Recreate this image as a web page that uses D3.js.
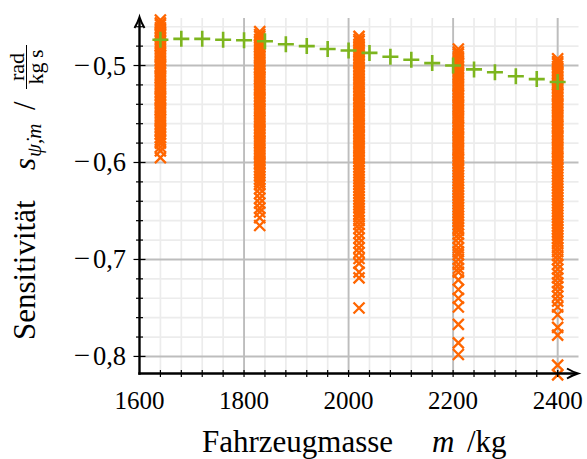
<!DOCTYPE html>
<html>
<head>
<meta charset="utf-8">
<script src="https://cdn.jsdelivr.net/npm/d3@7"></script>
<style>
  html, body { margin: 0; padding: 0; background: #fff; }
  svg { display: block; font-family: "Liberation Serif", "DejaVu Serif", serif; }
</style>
</head>
<body>
<div id="chart"></div>
<script>
// green "+" series: nominal sensitivity over mass
const massSteps = [1640, 1680, 1720, 1760, 1800, 1840, 1880, 1920, 1960, 2000,
  2040, 2080, 2120, 2160, 2200, 2240, 2280, 2320, 2360, 2400];
const sensNominal = [-0.4735, -0.4725, -0.4725, -0.4735, -0.474, -0.475, -0.478, -0.480, -0.483, -0.4845,
  -0.487, -0.491, -0.494, -0.4975, -0.500, -0.504, -0.507, -0.511, -0.514, -0.517];

// orange "x" scatter: sampled sensitivities at five masses
const sampleMass = [1640, 1830, 2020, 2210, 2400];
const sens1640 = [-0.453, -0.456, -0.458, -0.461, -0.464, -0.467, -0.469, -0.472, -0.475, -0.478,
  -0.480, -0.483, -0.486, -0.489, -0.491, -0.494, -0.497, -0.500, -0.502, -0.505, -0.508, -0.511,
  -0.513, -0.516, -0.519, -0.522, -0.524, -0.527, -0.530, -0.533, -0.535, -0.538, -0.541, -0.544,
  -0.546, -0.549, -0.552, -0.555, -0.557, -0.560, -0.563, -0.566, -0.568, -0.571, -0.574, -0.577,
  -0.580, -0.584, -0.588, -0.595];
const sens1830 = [-0.465, -0.468, -0.470, -0.473, -0.476, -0.479, -0.481, -0.484, -0.487, -0.490,
  -0.492, -0.495, -0.498, -0.501, -0.503, -0.506, -0.509, -0.512, -0.514, -0.517, -0.520, -0.523,
  -0.525, -0.528, -0.531, -0.534, -0.536, -0.539, -0.542, -0.545, -0.547, -0.550, -0.553, -0.556,
  -0.558, -0.561, -0.564, -0.567, -0.569, -0.572, -0.575, -0.578, -0.580, -0.583, -0.586, -0.589,
  -0.591, -0.594, -0.597, -0.600, -0.602, -0.605, -0.608, -0.611, -0.614, -0.617, -0.620, -0.623,
  -0.627, -0.632, -0.637, -0.642, -0.647, -0.651, -0.657, -0.665];
const sens2020 = [-0.470, -0.473, -0.475, -0.478, -0.481, -0.484, -0.486, -0.489, -0.492, -0.495,
  -0.497, -0.500, -0.503, -0.506, -0.508, -0.511, -0.514, -0.517, -0.519, -0.522, -0.525, -0.528,
  -0.530, -0.533, -0.536, -0.539, -0.541, -0.544, -0.547, -0.550, -0.552, -0.555, -0.558, -0.561,
  -0.563, -0.566, -0.569, -0.572, -0.574, -0.577, -0.580, -0.583, -0.585, -0.588, -0.591, -0.594,
  -0.596, -0.599, -0.602, -0.605, -0.608, -0.611, -0.614, -0.617, -0.620, -0.623, -0.626, -0.629,
  -0.632, -0.635, -0.638, -0.641, -0.644, -0.647, -0.650, -0.653, -0.656, -0.660, -0.664, -0.668,
  -0.673, -0.678, -0.683, -0.688, -0.693, -0.699, -0.704, -0.713, -0.719, -0.750];
const sens2210 = [-0.483, -0.486, -0.488, -0.491, -0.494, -0.497, -0.499, -0.502, -0.505, -0.508,
  -0.510, -0.513, -0.516, -0.519, -0.521, -0.524, -0.527, -0.530, -0.532, -0.535, -0.538, -0.541,
  -0.543, -0.546, -0.549, -0.552, -0.554, -0.557, -0.560, -0.563, -0.565, -0.568, -0.571, -0.574,
  -0.576, -0.579, -0.582, -0.585, -0.587, -0.590, -0.593, -0.596, -0.598, -0.601, -0.604, -0.607,
  -0.610, -0.613, -0.616, -0.619, -0.622, -0.625, -0.628, -0.631, -0.634, -0.637, -0.640, -0.643,
  -0.646, -0.649, -0.652, -0.655, -0.658, -0.661, -0.664, -0.667, -0.670, -0.674, -0.678, -0.683,
  -0.688, -0.692, -0.695, -0.700, -0.705, -0.709, -0.713, -0.721, -0.731, -0.740, -0.749, -0.767,
  -0.786, -0.798];
const sens2400 = [-0.493, -0.496, -0.498, -0.501, -0.504, -0.507, -0.509, -0.512, -0.515, -0.518,
  -0.520, -0.523, -0.526, -0.529, -0.531, -0.534, -0.537, -0.540, -0.542, -0.545, -0.548, -0.551,
  -0.553, -0.556, -0.559, -0.562, -0.564, -0.567, -0.570, -0.573, -0.575, -0.578, -0.581, -0.584,
  -0.586, -0.589, -0.592, -0.595, -0.597, -0.600, -0.603, -0.606, -0.609, -0.612, -0.615, -0.618,
  -0.621, -0.624, -0.627, -0.630, -0.633, -0.636, -0.639, -0.642, -0.645, -0.648, -0.651, -0.654,
  -0.657, -0.660, -0.663, -0.666, -0.669, -0.672, -0.675, -0.678, -0.681, -0.684, -0.688, -0.692,
  -0.696, -0.700, -0.705, -0.710, -0.715, -0.719, -0.724, -0.728, -0.733, -0.738, -0.743, -0.749,
  -0.757, -0.770, -0.778, -0.809, -0.819];
const sampleSens = [sens1640, sens1830, sens2020, sens2210, sens2400];

// ticks
const xMajorTicks = [1600, 1800, 2000, 2200, 2400];
const xMinorTicks = [1640, 1680, 1720, 1760, 1840, 1880, 1920, 1960, 2040, 2080, 2120, 2160,
  2240, 2280, 2320, 2360, 2400];
const yMajorTicks = [-0.8, -0.7, -0.6, -0.5];
const yMinorTicks = [-0.78, -0.76, -0.74, -0.72, -0.68, -0.66, -0.64, -0.62, -0.58, -0.56,
  -0.54, -0.52, -0.48, -0.46];

const W = 587, H = 459;
const plot = { left: 139.5, right: 577, top: 18, bottom: 373.5 };

const svg = d3.select("#chart").append("svg")
  .attr("width", W).attr("height", H);

const x = d3.scaleLinear().domain([1600, 2437]).range([plot.left, plot.right]);
const y = d3.scaleLinear().domain([-0.8176, -0.451]).range([plot.bottom, plot.top]);

// minor grid
const grid = svg.append("g");
grid.selectAll(".vminor").data(xMinorTicks).join("line")
  .attr("x1", d => x(d)).attr("x2", d => x(d))
  .attr("y1", plot.top).attr("y2", plot.bottom)
  .attr("stroke", "#ececec").attr("stroke-width", 1.7);
grid.selectAll(".hminor").data(yMinorTicks).join("line")
  .attr("x1", plot.left).attr("x2", plot.right + 1.5)
  .attr("y1", d => y(d)).attr("y2", d => y(d))
  .attr("stroke", "#ececec").attr("stroke-width", 1.7);
// major grid
grid.selectAll(".vmajor").data(xMajorTicks.slice(1)).join("line")
  .attr("x1", d => x(d)).attr("x2", d => x(d))
  .attr("y1", plot.top).attr("y2", plot.bottom)
  .attr("stroke", "#bdbdbd").attr("stroke-width", 1.9);
grid.selectAll(".hmajor").data(yMajorTicks).join("line")
  .attr("x1", plot.left).attr("x2", plot.right + 1.5)
  .attr("y1", d => y(d)).attr("y2", d => y(d))
  .attr("stroke", "#bdbdbd").attr("stroke-width", 1.9);

// orange samples
const crossPath = "M-5.5,-5.5L5.5,5.5M-5.5,5.5L5.5,-5.5";
const samples = sampleMass.flatMap((m, i) => sampleSens[i].map(v => ({ m, v })));
svg.append("g").selectAll("path").data(samples).join("path")
  .attr("transform", d => `translate(${x(d.m)},${y(d.v)})`)
  .attr("d", crossPath)
  .attr("fill", "none").attr("stroke", "#ff6600").attr("stroke-width", 2.3);

// green nominal
const plusPath = "M-8,0H8M0,-8V8";
svg.append("g").selectAll("path").data(massSteps).join("path")
  .attr("transform", (d, i) => `translate(${x(d)},${y(sensNominal[i])})`)
  .attr("d", plusPath)
  .attr("fill", "none").attr("stroke", "#7db51e").attr("stroke-width", 2.6);

// axes
const axes = svg.append("g").attr("stroke", "#000");
axes.append("line")
  .attr("x1", plot.left).attr("x2", plot.left)
  .attr("y1", plot.bottom + 1.2).attr("y2", plot.top + 1)
  .attr("stroke-width", 2.4);
axes.append("line")
  .attr("x1", plot.left - 1.2).attr("x2", plot.right - 1)
  .attr("y1", plot.bottom).attr("y2", plot.bottom)
  .attr("stroke-width", 2.4);
const arrowHead = "M-5,11Q-1.5,5 0,0Q1.5,5 5,11";
axes.append("path").attr("d", arrowHead).attr("fill", "none").attr("stroke-width", 2)
  .attr("transform", `translate(${plot.left},${plot.top - 1})`);
axes.append("path").attr("d", arrowHead).attr("fill", "none").attr("stroke-width", 2)
  .attr("transform", `translate(${plot.right + 1},${plot.bottom}) rotate(90)`);

// ticks
axes.selectAll(".xt").data(xMajorTicks.slice(1).concat(xMinorTicks)).join("line")
  .attr("x1", d => x(d)).attr("x2", d => x(d))
  .attr("y1", plot.bottom - 3.5).attr("y2", plot.bottom + 3.5)
  .attr("stroke-width", 1.2);
axes.selectAll(".ytmaj").data(yMajorTicks).join("line")
  .attr("x1", plot.left - 6).attr("x2", plot.left + 6)
  .attr("y1", d => y(d)).attr("y2", d => y(d))
  .attr("stroke-width", 1.2);
axes.selectAll(".ytmin").data(yMinorTicks).join("line")
  .attr("x1", plot.left - 3.5).attr("x2", plot.left + 3.5)
  .attr("y1", d => y(d)).attr("y2", d => y(d))
  .attr("stroke-width", 1.2);

// tick labels
svg.append("g").selectAll("text").data(xMajorTicks).join("text")
  .attr("x", d => x(d)).attr("y", 409)
  .attr("text-anchor", "middle").attr("font-size", 25)
  .text(d => d);
const yLab = svg.append("g").attr("font-size", 26.5);
yLab.selectAll(".num").data(yMajorTicks).join("text")
  .attr("x", 126).attr("y", d => y(d) + 9)
  .attr("text-anchor", "end")
  .text(d => d3.format(".1f")(-d).replace(".", ","));
yLab.selectAll(".minus").data(yMajorTicks).join("text")
  .attr("x", 90).attr("y", d => y(d) + 9)
  .attr("text-anchor", "end").attr("font-size", 29)
  .text("\u2212");

// x axis title
const xt = svg.append("g").attr("font-size", 31);
xt.append("text").attr("x", 202).attr("y", 452).text("Fahrzeugmasse");
xt.append("text").attr("x", 432).attr("y", 452).attr("font-style", "italic").text("m");
xt.append("text").attr("x", 467).attr("y", 452).text("/kg");

// y axis title (rotated)
const yt = svg.append("g").attr("transform", "translate(35,340) rotate(-90)");
yt.append("text").attr("x", 0).attr("y", 0).attr("font-size", 31).text("Sensitivität");
yt.append("text").attr("x", 170).attr("y", 0).attr("font-size", 31)
  .attr("font-style", "italic").text("s");
yt.append("text").attr("x", 183).attr("y", 6).attr("font-size", 21)
  .attr("font-style", "italic").text("\u03C8\u0307,m");
yt.append("text").attr("x", 230).attr("y", 0).attr("font-size", 31).text("/");
yt.append("text").attr("x", 273).attr("y", -11).attr("font-size", 22)
  .attr("text-anchor", "middle").text("rad");
yt.append("line").attr("x1", 251).attr("x2", 295).attr("y1", -8.5).attr("y2", -8.5)
  .attr("stroke", "#000").attr("stroke-width", 1);
yt.append("text").attr("x", 273).attr("y", 8).attr("font-size", 22)
  .attr("text-anchor", "middle").text("kg\u2009s");
</script>
</body>
</html>
